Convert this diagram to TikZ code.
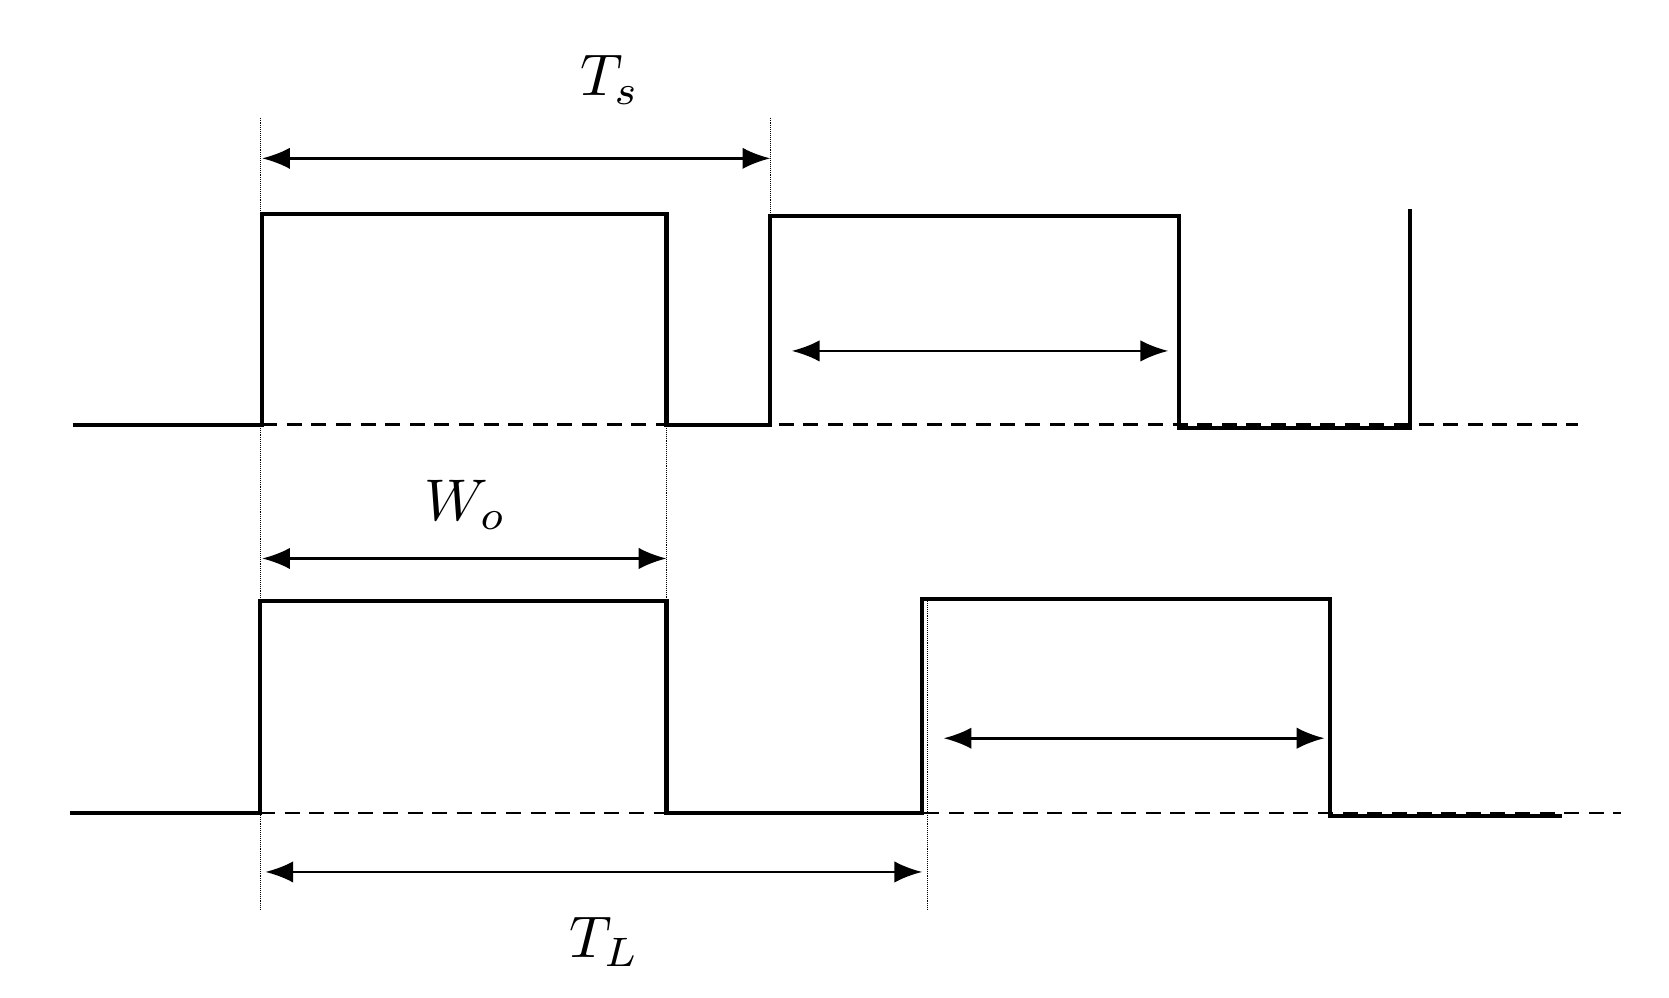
\documentclass[tikz,border=0pt]{standalone}
\usetikzlibrary{arrows.meta}
\begin{document}
\begin{tikzpicture}[x=1pt,y=-1pt,
 wave/.style={line width=4pt,line join=miter},
 dim/.style={line width=2.5pt,{Latex[length=26pt,width=20pt]}-{Latex[length=26pt,width=20pt]}},
 guide/.style={line width=0.8pt,densely dotted},
 base/.style={line width=2.5pt,dash pattern=on 14pt off 9pt},
 lab/.style={scale=5.5}]
\useasboundingbox (0,0) rectangle (1560,932);
% top waveform
\draw[wave] (68,397) -- (245,397) -- (245,200) -- (623,200) -- (623,397) -- (720,397) -- (720,202) -- (1102,202) -- (1102,400) -- (1318,400) -- (1318,195);
\draw[base] (245,397) -- (1475,397);
% bottom waveform
\draw[wave] (65,760) -- (243,760) -- (243,562) -- (623,562) -- (623,760) -- (862,760) -- (862,560) -- (1243,560) -- (1243,763) -- (1460,763);
\draw[base] (243,760) -- (1515,760);
% guides
\draw[guide] (243,110) -- (243,850);
\draw[guide] (720,110) -- (720,200);
\draw[guide] (623,400) -- (623,560);
\draw[guide] (867,560) -- (867,850);
% dimension arrows
\coordinate (ts1) at (245,148); \coordinate (ts2) at (720,148);
\draw[dim] (ts1) -- (ts2);
\node[lab] (ts) at (570,75) {$T_s$};
\coordinate (i1) at (740,328); \coordinate (i2) at (1092,328);
\draw[dim] (i1) -- (i2);
\coordinate (w1) at (245,522); \coordinate (w2) at (623,522);
\draw[dim] (w1) -- (w2);
\node[lab] (wo) at (435,472) {$W_o$};
\coordinate (j1) at (882,690); \coordinate (j2) at (1238,690);
\draw[dim] (j1) -- (j2);
\coordinate (l1) at (248,815); \coordinate (l2) at (862,815);
\draw[dim] (l1) -- (l2);
\node[lab] (tl) at (565,880) {$T_L$};
\end{tikzpicture}
\end{document}
